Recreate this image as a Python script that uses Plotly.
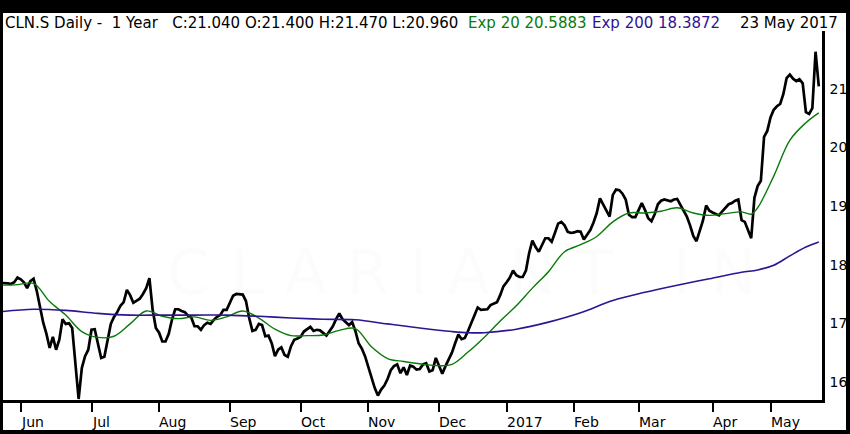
import pandas as pd
import plotly.graph_objects as go

# SIX trading days, 24 May 2016 .. 23 May 2017
holidays = ["2016-08-01", "2016-12-26", "2017-01-02", "2017-04-14", "2017-04-17", "2017-05-01"]
dates = [d for d in pd.bdate_range("2016-05-24", "2017-05-23") if d.strftime("%Y-%m-%d") not in holidays]

closes = [
    17.69, 17.69, 17.68, 17.67, 17.70, 17.78, 17.75, 17.70, 17.60, 17.72,
    17.76, 17.55, 17.28, 17.01, 16.82, 16.58, 16.77, 16.55, 16.72, 17.07,
    16.99, 17.00, 16.92, 16.24, 15.71, 16.24, 16.44, 16.55, 16.89, 16.90,
    16.63, 16.41, 16.43, 16.72, 16.99, 17.11, 17.19, 17.30, 17.36, 17.57,
    17.48, 17.35, 17.39, 17.42, 17.50, 17.60, 17.77, 17.23, 16.92, 16.84,
    16.69, 16.69, 16.82, 17.06, 17.24, 17.24, 17.21, 17.19, 17.13, 17.10,
    16.95, 16.95, 16.89, 16.97, 17.01, 16.99, 17.06, 17.11, 17.14, 17.23,
    17.23, 17.34, 17.47, 17.50, 17.50, 17.49, 17.38, 17.09, 16.87, 16.89,
    16.99, 16.97, 16.78, 16.79, 16.66, 16.44, 16.55, 16.59, 16.46, 16.43,
    16.61, 16.72, 16.74, 16.77, 16.86, 16.90, 16.94, 16.87, 16.89, 16.88,
    16.84, 16.79, 16.87, 16.95, 17.07, 17.17, 17.07, 17.02, 16.97, 17.02,
    16.87, 16.66, 16.57, 16.44, 16.27, 16.06, 15.90, 15.77, 15.87, 15.94,
    16.05, 16.20, 16.27, 16.30, 16.15, 16.25, 16.12, 16.28, 16.26, 16.21,
    16.22, 16.30, 16.32, 16.18, 16.20, 16.41, 16.26, 16.14, 16.27, 16.38,
    16.50, 16.66, 16.81, 16.73, 16.75, 16.87, 17.01, 17.14, 17.27, 17.23,
    17.24, 17.24, 17.31, 17.34, 17.36, 17.48, 17.63, 17.70, 17.78, 17.90,
    17.82, 17.79, 17.79, 17.90, 18.20, 18.41, 18.30, 18.22, 18.33, 18.45,
    18.45, 18.39, 18.54, 18.70, 18.73, 18.67, 18.56, 18.54, 18.55, 18.57,
    18.56, 18.43, 18.51, 18.59, 18.72, 18.88, 19.13, 19.02, 18.91, 18.82,
    19.19, 19.28, 19.27, 19.21, 19.11, 18.85, 18.81, 18.81, 18.93, 19.05,
    18.93, 18.79, 18.74, 18.86, 19.03, 19.09, 19.11, 19.10, 19.08, 19.11,
    19.12, 19.02, 18.91, 18.82, 18.67, 18.49, 18.40, 18.56, 18.75, 19.01,
    18.92, 18.89, 18.86, 18.84, 18.91, 18.97, 19.03, 19.05, 19.09, 19.11,
    18.76, 18.73, 18.59, 18.45, 19.14, 19.34, 19.43, 20.18, 20.28, 20.51,
    20.64, 20.70, 20.74, 20.91, 21.18, 21.24, 21.17, 21.13, 21.16, 21.09,
    20.60, 20.57, 20.67, 21.63, 21.04,
]
assert len(closes) == len(dates)

ema20_day = [0, 5, 10, 15, 20, 25, 30, 35, 40, 45, 50, 55, 60, 65, 70, 75, 80, 85, 90, 95,
             100, 105, 110, 115, 120, 125, 130, 135, 140, 145, 150, 155, 160, 165, 170, 175,
             180, 185, 190, 195, 200, 205, 210, 215, 220, 225, 230, 233, 235, 240, 245, 250, 254]
ema20 = [17.65, 17.66, 17.68, 17.37, 17.14, 16.86, 16.76, 16.78, 16.99, 17.21, 17.12, 17.08,
         17.11, 17.05, 17.11, 17.21, 17.09, 16.90, 16.79, 16.79, 16.80, 16.88, 16.91, 16.60,
         16.40, 16.35, 16.31, 16.28, 16.30, 16.51, 16.76, 17.04, 17.30, 17.60, 17.88, 18.22,
         18.34, 18.48, 18.73, 18.88, 18.88, 18.91, 18.97, 18.88, 18.84, 18.87, 18.90, 18.86,
         18.97, 19.51, 20.12, 20.42, 20.5883]

ema200_day = [0, 10, 20, 30, 40, 50, 60, 70, 80, 90, 100, 110, 120, 130, 140, 145, 150,
              160, 170, 180, 190, 200, 210, 220, 230, 235, 240, 245, 250, 254]
ema200 = [17.20, 17.24, 17.22, 17.17, 17.14, 17.14, 17.14, 17.14, 17.12, 17.09, 17.07, 17.06,
          16.99, 16.92, 16.86, 16.84, 16.84, 16.90, 17.02, 17.18, 17.39, 17.53, 17.65, 17.76,
          17.87, 17.91, 17.99, 18.15, 18.30, 18.3872]

price_ticks = [16, 17, 18, 19, 20, 21]

days = list(range(len(dates)))
month_days = [i for i in days[1:] if dates[i].month != dates[i - 1].month]
month_labels = [dates[i].strftime("%Y") if dates[i].month == 1 else dates[i].strftime("%b")
                for i in month_days]

FONT = "DejaVu Sans"
GREEN = "#0a7a0a"
PURPLE = "#2e1490"

fig = go.Figure()
fig.add_trace(go.Scatter(x=days, y=closes, mode="lines",
                         line=dict(color="black", width=2.7)))
fig.add_trace(go.Scatter(x=ema20_day, y=ema20, mode="lines",
                         line=dict(color=GREEN, width=1.4, shape="spline")))
fig.add_trace(go.Scatter(x=ema200_day, y=ema200, mode="lines",
                         line=dict(color=PURPLE, width=1.6, shape="spline")))

fig.update_layout(
    width=850, height=434,
    margin=dict(l=3, r=28, t=31, b=34),
    paper_bgcolor="white",
    plot_bgcolor="white",
    showlegend=False,
    font=dict(family=FONT, size=14, color="black"),
    xaxis=dict(range=[0.5, 255.0], showgrid=False, zeroline=False,
               showline=True, linecolor="black", linewidth=2.5,
               ticks="outside", ticklen=9, tickwidth=2, tickcolor="black",
               tickvals=month_days, showticklabels=False),
    yaxis=dict(range=[15.693, 21.983], side="right", showgrid=False, zeroline=False,
               showline=True, linecolor="black", linewidth=2.5,
               ticks="", tickvals=price_ticks, ticklabelstandoff=2,
               tickfont=dict(family=FONT, size=14, color="black")),
)

# black frame round the page: top, bottom, left, right (in pixels of the page)
frame = [(0, 850, 0, 13), (0, 850, 430, 434), (0, 3, 0, 434), (846, 850, 0, 434)]
for x0, x1, y0, y1 in frame:
    fig.add_shape(type="rect", xref="paper", yref="paper", layer="above",
                  x0=(x0 - 3) / 819, x1=(x1 - 3) / 819,
                  y0=(400 - y1) / 369, y1=(400 - y0) / 369,
                  fillcolor="black", line=dict(width=0))

# faint watermark
fig.add_annotation(xref="paper", yref="paper", x=0.56, y=0.24, showarrow=False,
                   text="C L A R I A N T   I N",
                   font=dict(family=FONT, size=62, color="rgba(0,0,0,0.012)"))

for d, lab in zip(month_days, month_labels):
    fig.add_annotation(xref="x", yref="paper", x=d, y=-0.0596, xanchor="left",
                       yanchor="middle", xshift=-2, showarrow=False, text=lab,
                       font=dict(family=FONT, size=14, color="black"))

hdr_y = (400 - 23) / 369
fig.add_annotation(xref="paper", yref="paper", x=(5 - 3) / 819, y=hdr_y, xanchor="left",
                   yanchor="middle", xshift=-2, showarrow=False,
                   text="CLN.S Daily -&nbsp; 1 Year &nbsp; C:21.040 O:21.400 H:21.470 L:20.960",
                   font=dict(family=FONT, size=15, color="black"))
fig.add_annotation(xref="paper", yref="paper", x=(468 - 3) / 819, y=hdr_y, xanchor="left",
                   yanchor="middle", xshift=-2, showarrow=False,
                   text="Exp 20 20.5883", font=dict(family=FONT, size=15, color=GREEN))
fig.add_annotation(xref="paper", yref="paper", x=(592 - 3) / 819, y=hdr_y, xanchor="left",
                   yanchor="middle", xshift=-2, showarrow=False,
                   text="Exp 200 18.3872", font=dict(family=FONT, size=15, color=PURPLE))
fig.add_annotation(xref="paper", yref="paper", x=(838 - 3) / 819, y=hdr_y, xanchor="right",
                   yanchor="middle", xshift=2, showarrow=False,
                   text="23 May 2017", font=dict(family=FONT, size=15, color="black"))

# drop the default page margin so the 850x434 figure fills the window exactly
fig.write_html("out.html", config={"displayModeBar": False},
               post_script="document.body.style.margin='0px';")
